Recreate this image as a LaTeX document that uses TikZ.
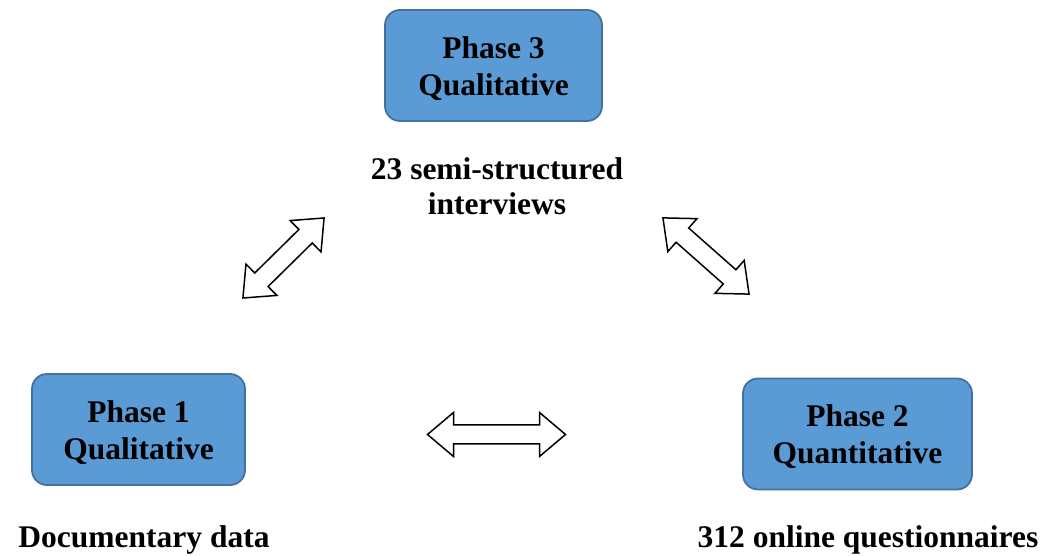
\documentclass[tikz,border=0pt]{standalone}
\usepackage{fontspec}
\setmainfont{Liberation Serif}
\definecolor{phasefill}{HTML}{5B9BD5}
\definecolor{phaseline}{HTML}{41719C}
\begin{document}
\begin{tikzpicture}[x=1pt,y=1pt,
  phasebox/.style={draw=phaseline, line width=1.8pt, fill=phasefill,
    rounded corners=15pt, minimum height=111pt},
  phasetext/.style={align=center, inner sep=0pt,
    font=\fontsize{31.5}{37}\selectfont\bfseries},
  caption/.style={align=center, inner sep=0pt,
    font=\fontsize{31.5}{35}\selectfont\bfseries},
  linkarrow/.style={draw=black, line width=1.5pt, fill=white, line join=miter},
  % block double arrow; the argument is half its length
  pics/twoway/.style={code={
    \draw[linkarrow] ({-#1},0) -- ({-#1+26},22) -- ({-#1+26},9.5)
      -- ({#1-26},9.5) -- ({#1-26},22) -- ({#1},0) -- ({#1-26},-22)
      -- ({#1-26},-9.5) -- ({-#1+26},-9.5) -- ({-#1+26},-22) -- cycle;
  }}]
  \useasboundingbox (0,0) rectangle (1055,556);

  % the three phases
  \node[phasebox, minimum width=217pt] (p3) at (493.5,490.5) {};
  \node[phasebox, minimum width=213pt] (p1) at (138.5,126.5) {};
  \node[phasebox, minimum width=229pt] (p2) at (857.5,122) {};
  \node[phasetext] (p3t) at ([yshift=-3pt]p3.center) {Phase 3\\Qualitative};
  \node[phasetext] (p1t) at ([yshift=-3pt]p1.center) {Phase 1\\Qualitative};
  \node[phasetext] (p2t) at ([yshift=-3pt]p2.center) {Phase 2\\Quantitative};

  % data sources
  \node[caption] (c3) at (497,370) {23 semi-structured\\interviews};
  \node[caption, anchor=base] (c1) at (144,8) {Documentary data};
  \node[caption, anchor=base] (c2) at (868,8) {312 online questionnaires};

  % two-way links between phases
  \pic[rotate=44.6] (a13) at (283.5,298) {twoway=57};
  \pic[rotate=-41.5] (a32) at (706,300) {twoway=57.5};
  \pic (a12) at (496.5,121.5) {twoway=69};
\end{tikzpicture}
\end{document}
